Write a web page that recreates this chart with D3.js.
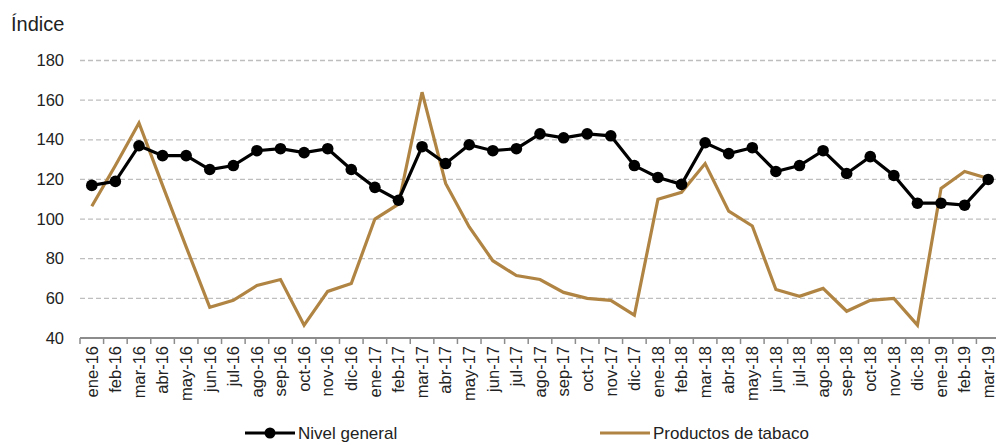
<!DOCTYPE html>
<html><head><meta charset="utf-8">
<script src="https://cdn.jsdelivr.net/npm/d3@7"></script>
<style>body{margin:0;background:#fff}svg{display:block;font-family:"Liberation Sans",Arial,sans-serif}</style>
</head><body><svg id="c" width="996" height="445"></svg>
<script>
const categories = ["ene-16","feb-16","mar-16","abr-16","may-16","jun-16","jul-16","ago-16","sep-16","oct-16","nov-16","dic-16",
"ene-17","feb-17","mar-17","abr-17","may-17","jun-17","jul-17","ago-17","sep-17","oct-17","nov-17","dic-17",
"ene-18","feb-18","mar-18","abr-18","may-18","jun-18","jul-18","ago-18","sep-18","oct-18","nov-18","dic-18",
"ene-19","feb-19","mar-19"];
const nivelGeneral = [117,119,137,132,132,125,127,134.5,135.5,133.5,135.5,125,
116,109.5,136.5,128,137.5,134.5,135.5,143,141,143,142,127,
121,117.5,138.5,133,136,124,127,134.5,123,131.5,122,108,
108,107,120];
const tabaco = [106.5,127,148.5,117,86,55.5,59,66.5,69.5,46.5,63.5,67.5,
100,107.5,164,118,96,79,71.5,69.5,63,60,59,51.5,
110,113.5,128,104,96.5,64.5,61,65,53.5,59,60,46.5,
115.5,124,120.5];
const yTicks = [40,60,80,100,120,140,160,180];
const seriesNames = ["Nivel general","Productos de tabaco"];
const colors = ["#000000","#B08443"];

const svg = d3.select("#c");
const x = d3.scaleBand().domain(categories).range([80,1000]);
const y = d3.scaleLinear().domain([40,180]).range([338,60.5]);
const cx = d => x(d)+x.bandwidth()/2;

// grid
svg.append("g").selectAll("line").data(yTicks.slice(1)).join("line")
  .attr("x1",80).attr("x2",996).attr("y1",d=>y(d)).attr("y2",d=>y(d))
  .attr("stroke","#BEBEBE").attr("stroke-width",1.3).attr("stroke-dasharray","5,3");

// y labels
svg.append("g").selectAll("text").data(yTicks).join("text")
  .attr("x",64).attr("y",d=>y(d)+5.5).attr("text-anchor","end")
  .attr("font-size",16.5).attr("fill","#222").text(d=>d);

svg.append("text").attr("x",11).attr("y",31).attr("font-size",20).attr("fill","#222").text("Índice");

// x axis
const xAxis = d3.axisBottom(x).tickSizeOuter(0).tickSize(0).tickFormat(d=>d);
const gx = svg.append("g").attr("transform","translate(0,338)").call(xAxis);
gx.select(".domain").remove();
svg.append("line").attr("x1",80).attr("x2",1000).attr("y1",338).attr("y2",338).attr("stroke","#8C8C8C").attr("stroke-width",2);
svg.append("g").selectAll("line").data(categories).join("line")
  .attr("x1",d=>x(d)).attr("x2",d=>x(d)).attr("y1",338).attr("y2",344)
  .attr("stroke","#8C8C8C").attr("stroke-width",1.5);
gx.selectAll(".tick text").attr("transform","rotate(-90)").attr("text-anchor","end")
  .attr("x",-8).attr("y",0).attr("dy","0.35em").attr("font-size",16.5)
  .attr("font-family","Liberation Sans, Arial, sans-serif").attr("fill","#222");

// lines
const line = d3.line().x((d,i)=>cx(categories[i])).y(d=>y(d));
svg.append("path").datum(tabaco).attr("d",line).attr("fill","none")
  .attr("stroke",colors[1]).attr("stroke-width",3.2).attr("stroke-linejoin","miter");
svg.append("path").datum(nivelGeneral).attr("d",line).attr("fill","none")
  .attr("stroke",colors[0]).attr("stroke-width",3.2);
svg.append("g").selectAll("circle").data(nivelGeneral).join("circle")
  .attr("cx",(d,i)=>cx(categories[i])).attr("cy",d=>y(d)).attr("r",5.8).attr("fill",colors[0]);

// legend
const lg = svg.append("g");
const lx = [245,600];
seriesNames.forEach((n,i)=>{
  lg.append("line").attr("x1",lx[i]).attr("x2",lx[i]+50).attr("y1",433).attr("y2",433)
    .attr("stroke",colors[i]).attr("stroke-width",3.2);
  if(i===0) lg.append("circle").attr("cx",lx[i]+25).attr("cy",433).attr("r",5.5).attr("fill",colors[i]);
  lg.append("text").attr("x",lx[i]+53).attr("y",439).attr("font-size",17).attr("fill","#222").text(n);
});
</script></body></html>
